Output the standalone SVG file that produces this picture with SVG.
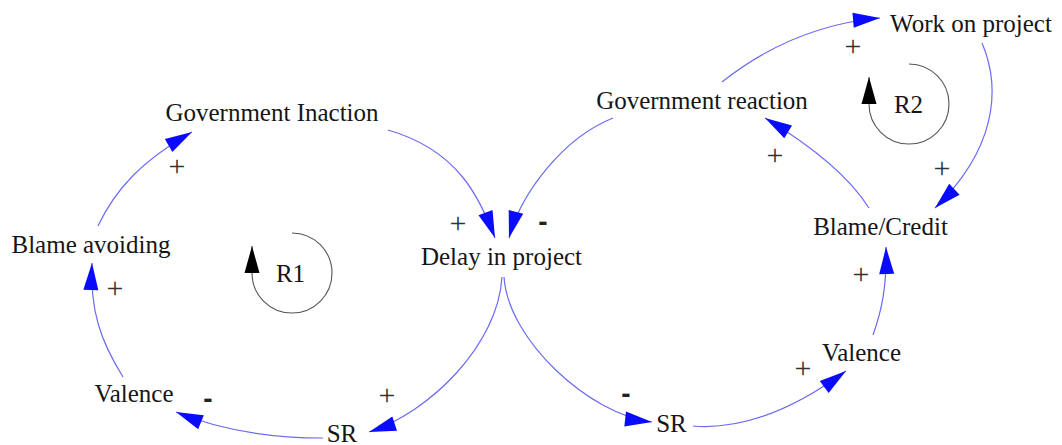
<svg xmlns="http://www.w3.org/2000/svg" width="1062" height="445" viewBox="0 0 1062 445">
  <defs>
    <style>
      .lbl { font-family: "Liberation Serif", "Times New Roman", serif; font-size: 25px; fill: #161616; text-anchor: middle; }
      .plus { font-family: "Liberation Serif", "Times New Roman", serif; font-size: 30px; fill: #333; text-anchor: middle; }
      .minus { font-family: "Liberation Sans", Arial, sans-serif; font-weight: bold; font-size: 28px; fill: #222; text-anchor: middle; }
      .link { fill: none; stroke: #6a6af4; stroke-width: 1.2; marker-end: url(#arrow); }
      .loop { fill: none; stroke: #555; stroke-width: 1.1; marker-end: url(#loopArrow); }
    </style>
    <marker id="arrow" viewBox="-28 -8 30 16" markerWidth="30" markerHeight="16" refX="0" refY="0" orient="auto" markerUnits="userSpaceOnUse">
      <path d="M0,0 L-27,-7.5 L-27,7.5 Z" fill="#0a0aff"/>
    </marker>
    <marker id="loopArrow" viewBox="-28 -8 30 16" markerWidth="30" markerHeight="16" refX="0" refY="0" orient="auto" markerUnits="userSpaceOnUse">
      <path d="M0,0 L-27,-7.5 L-27,7.5 Z" fill="#000"/>
    </marker>
  </defs>

  <rect width="1062" height="445" fill="#fff"/>

  <!-- causal links -->
  <g id="connectors">
    <path class="link" d="M98,226 C115,190 140,162 192,132"/>
    <path class="link" d="M388,130 C458,150 480,198 495,238"/>
    <path class="link" d="M613,118 C563,138 521,193 509,238"/>
    <path class="link" d="M502,277 C498,345 430,412 369,432"/>
    <path class="link" d="M504,277 C508,340 590,415 652,422"/>
    <path class="link" d="M693,426 C740,430 790,412 846,371"/>
    <path class="link" d="M873,335 C882,310 887,285 886,247"/>
    <path class="link" d="M869,208 C850,178 815,148 765,118"/>
    <path class="link" d="M982,43 C1002,90 995,150 935,208"/>
    <path class="link" d="M722,82 C760,52 810,24 880,18"/>
    <path class="link" d="M123,377 C100,340 90,310 92,263"/>
    <path class="link" d="M323,438 C270,438 220,430 176,412"/>
  </g>

  <!-- link polarities -->
  <g id="polarities">
    <text class="plus" x="177" y="176">+</text>
    <text class="plus" x="458" y="233">+</text>
    <text class="plus" x="853" y="56">+</text>
    <text class="plus" x="942" y="178">+</text>
    <text class="plus" x="775" y="165">+</text>
    <text class="plus" x="861" y="284">+</text>
    <text class="plus" x="803" y="378">+</text>
    <text class="plus" x="115" y="298">+</text>
    <text class="plus" x="387" y="405">+</text>
    <text class="minus" x="543" y="231">-</text>
    <text class="minus" x="208" y="408">-</text>
    <text class="minus" x="626" y="403">-</text>
  </g>

  <!-- loop identifiers -->
  <g id="loop-R1">
    <path class="loop" d="M292,233 A40,40 0 1 1 252,273 L252,246"/>
    <text class="lbl" x="290.5" y="282">R1</text>
  </g>
  <g id="loop-R2">
    <path class="loop" d="M909,64 A40,40 0 1 1 869,104 L869,77"/>
    <text class="lbl" x="908.5" y="113">R2</text>
  </g>

  <!-- variables -->
  <g id="government-inaction"><text class="lbl" x="272" y="121">Government Inaction</text></g>
  <g id="blame-avoiding"><text class="lbl" x="91" y="253">Blame avoiding</text></g>
  <g id="delay-in-project"><text class="lbl" x="501.5" y="265">Delay in project</text></g>
  <g id="valence-left"><text class="lbl" x="134" y="402">Valence</text></g>
  <g id="sr-left"><text class="lbl" x="342" y="442">SR</text></g>
  <g id="government-reaction"><text class="lbl" x="702" y="109">Government reaction</text></g>
  <g id="work-on-project"><text class="lbl" x="971" y="32">Work on project</text></g>
  <g id="blame-credit"><text class="lbl" x="880.5" y="235">Blame/Credit</text></g>
  <g id="valence-right"><text class="lbl" x="861.5" y="361">Valence</text></g>
  <g id="sr-right"><text class="lbl" x="671.5" y="432">SR</text></g>
</svg>
